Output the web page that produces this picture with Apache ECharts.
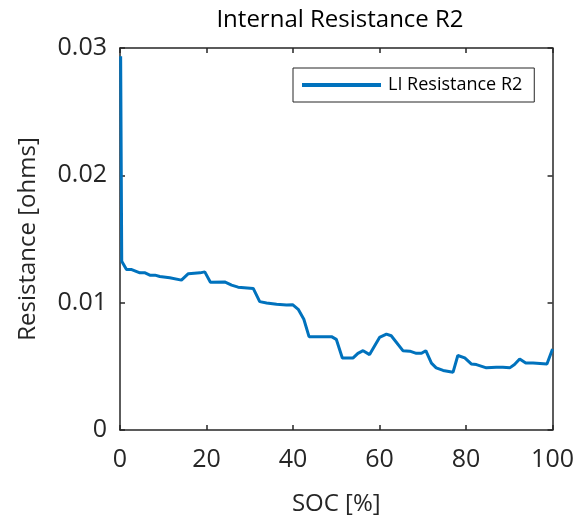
<!DOCTYPE html>
<html>
<head>
<meta charset="utf-8">
<script src="https://cdn.jsdelivr.net/npm/echarts@6/dist/echarts.min.js"></script>
<style>html,body{margin:0;padding:0;background:#fff}#c{width:577px;height:521px}</style>
</head>
<body>
<div id="c"></div>
<script>
const socValues = [0.15, 0.4, 1.5, 2.7, 4.6, 5.8, 6.9, 8.1, 9.2, 11.5, 14.2, 15.8, 18.5, 19.6, 20.9, 24.2, 25.8, 27.3, 30.8, 32.3, 33.9, 36.2, 38.5, 39.9, 41.2, 42.5, 43.7, 48.9, 50.0, 51.4, 53.9, 55.0, 56.2, 57.7, 60.0, 61.6, 62.7, 65.4, 67.0, 68.5, 69.7, 70.7, 72.0, 73.1, 74.7, 77.0, 78.1, 79.7, 81.2, 82.4, 84.7, 87.0, 88.5, 90.1, 91.2, 92.4, 93.8, 95.5, 98.7, 100];
const resistanceValues = [0.02935, 0.01325, 0.0126, 0.0126, 0.01234, 0.01234, 0.01216, 0.01216, 0.01205, 0.01195, 0.01177, 0.01228, 0.01234, 0.01242, 0.01161, 0.01163, 0.01138, 0.01122, 0.01112, 0.01008, 0.00998, 0.00987, 0.00982, 0.00984, 0.00948, 0.0087, 0.00733, 0.00733, 0.00712, 0.00566, 0.00566, 0.00602, 0.00623, 0.00592, 0.00727, 0.00753, 0.0074, 0.00623, 0.00619, 0.00602, 0.00602, 0.00623, 0.00525, 0.00488, 0.00468, 0.00454, 0.00585, 0.00566, 0.00519, 0.00514, 0.00488, 0.00493, 0.00493, 0.00488, 0.00514, 0.00558, 0.00527, 0.00527, 0.00519, 0.00636];
const xTicks = [0, 20, 40, 60, 80, 100];
const yTicks = [0, 0.01, 0.02, 0.03];
const seriesName = 'LI Resistance R2';

const FONT = 'Open Sans';
const AX = '#262626';
const chart = echarts.init(document.getElementById('c'));
const data = socValues.map((x, i) => [x, resistanceValues[i]]);
const axisBase = {
  axisLine: { show: true, onZero: false, lineStyle: { color: AX, width: 1.5 } },
  axisTick: { show: true, inside: true, length: 5, lineStyle: { color: AX, width: 1.5 } },
  splitLine: { show: false }
};
chart.setOption({
  animation: false,
  title: {
    text: 'Internal Resistance R2', left: 335, textAlign: 'center', top: 3,
    textStyle: { fontFamily: FONT, fontSize: 24, fontWeight: 'normal', color: '#000' }
  },
  legend: {
    data: [seriesName], left: 293, top: 68, orient: 'vertical',
    padding: [8, 12, 8, 9], itemGap: 0,
    borderColor: AX, borderWidth: 1, backgroundColor: '#fff',
    icon: 'rect', itemWidth: 79, itemHeight: 4,
    textStyle: { fontFamily: FONT, fontSize: 18, color: '#000', padding: [0, 0, 0, 2] }
  },
  grid: { left: 120, right: 24, top: 48, bottom: 88 },
  xAxis: [
    Object.assign({}, axisBase, {
      type: 'value', min: 0, max: 100, interval: 20, position: 'bottom',
      name: 'SOC [%]', nameLocation: 'middle', nameGap: 62,
      nameTextStyle: { fontFamily: FONT, fontSize: 24, color: '#262626' },
      axisLabel: { fontFamily: FONT, fontSize: 25, color: '#262626', margin: 17,
        formatter: v => xTicks.includes(v) ? String(v) : '' }
    }),
    Object.assign({}, axisBase, {
      type: 'value', min: 0, max: 100, interval: 20, position: 'top',
      axisLabel: { show: false }
    })
  ],
  yAxis: [
    Object.assign({}, axisBase, {
      type: 'value', min: 0, max: 0.03, interval: 0.01, position: 'left',
      name: 'Resistance [ohms]', nameLocation: 'middle', nameGap: 80, nameRotate: 90,
      nameTextStyle: { fontFamily: FONT, fontSize: 24, color: '#262626' },
      axisLabel: { fontFamily: FONT, fontSize: 25, color: '#262626', margin: 13,
        formatter: v => { const t = yTicks.find(y => Math.abs(y - v) < 1e-9); return t === undefined ? '' : (t === 0 ? '0' : t.toFixed(2)); } }
    }),
    Object.assign({}, axisBase, {
      type: 'value', min: 0, max: 0.03, interval: 0.01, position: 'right',
      axisLabel: { show: false }
    })
  ],
  series: [{
    name: seriesName, type: 'line', data: data, xAxisIndex: 0, yAxisIndex: 0,
    showSymbol: false, symbol: 'none',
    lineStyle: { color: '#0072BD', width: 3 }, itemStyle: { color: '#0072BD' }
  }]
});
</script>
</body>
</html>
